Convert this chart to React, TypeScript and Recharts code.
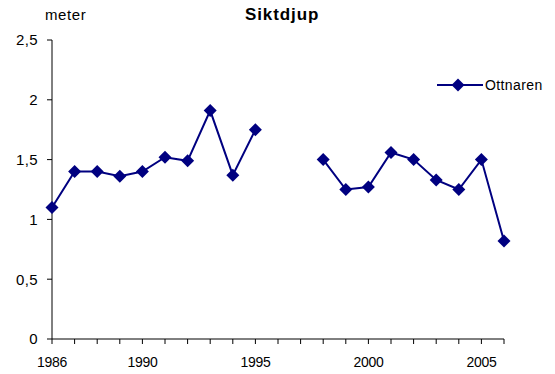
import React from "react";
import { LineChart, Line, XAxis, YAxis } from "recharts";

const years = [
  1986, 1987, 1988, 1989, 1990, 1991, 1992, 1993, 1994, 1995, 1996, 1997,
  1998, 1999, 2000, 2001, 2002, 2003, 2004, 2005, 2006,
];
const ottnaren: (number | null)[] = [
  1.1, 1.4, 1.4, 1.36, 1.4, 1.52, 1.49, 1.91, 1.37, 1.75, null, null,
  1.5, 1.25, 1.27, 1.56, 1.5, 1.33, 1.25, 1.5, 0.82,
];
const yTicks = [0, 0.5, 1, 1.5, 2, 2.5];
const xLabels = [1986, 1990, 1995, 2000, 2005];

const NAVY = "#000080";
const FONT = "'Liberation Sans', Arial, sans-serif";

const data = years.map((year, i) => ({ year, ottnaren: ottnaren[i] }));

const Diamond = (props: any) => {
  const { cx, cy, payload } = props;
  if (payload?.ottnaren == null || cx == null || cy == null) return null;
  const r = 6.5;
  return (
    <polygon
      points={`${cx},${cy - r} ${cx + r},${cy} ${cx},${cy + r} ${cx - r},${cy}`}
      fill={NAVY}
    />
  );
};

// legend drawn as an overlay so it doesn't shrink the plot area
const LegendBox = () => (
  <div
    style={{
      position: "absolute",
      left: 437,
      top: 77,
      display: "flex",
      alignItems: "center",
      fontFamily: FONT,
      fontSize: 14,
      letterSpacing: 0.4,
    }}
  >
    <svg width={46} height={16}>
      <line x1={0} y1={8} x2={46} y2={8} stroke={NAVY} strokeWidth={2} />
      <polygon points="21,1.5 27.5,8 21,14.5 14.5,8" fill={NAVY} />
    </svg>
    <span style={{ marginLeft: 2, color: "#000" }}>Ottnaren</span>
  </div>
);

export default function App() {
  return (
    <div style={{ position: "absolute", left: 0, top: 0, width: 555, height: 374, background: "#fff" }}>
      <div
        style={{
          position: "absolute",
          left: 245,
          top: 5,
          fontFamily: FONT,
          fontWeight: "bold",
          fontSize: 17,
          letterSpacing: 0.9,
        }}
      >
        Siktdjup
      </div>
      <div style={{ position: "absolute", left: 45, top: 6, fontFamily: FONT, fontSize: 15, letterSpacing: 0.6 }}>
        meter
      </div>
      <LineChart
        width={555}
        height={374}
        data={data}
        margin={{ top: 40, right: 51, left: 0, bottom: 0 }}
      >
        <XAxis
          dataKey="year"
          type="number"
          domain={[1986, 2006]}
          ticks={years}
          interval={0}
          tickFormatter={(v: number) => (xLabels.includes(v) ? String(v) : "")}
          height={35}
          stroke="#000"
          tickSize={5}
          tickMargin={13}
          tick={{ fill: "#000", fontSize: 14, fontFamily: FONT, letterSpacing: -0.3 }}
        />
        <YAxis
          domain={[0, 2.5]}
          ticks={yTicks}
          width={52}
          stroke="#000"
          tickSize={5}
          tickMargin={9}
          tickFormatter={(v: number) => String(v).replace(".", ",")}
          tick={{ fill: "#000", fontSize: 15, fontFamily: FONT, letterSpacing: 0.4 }}
        />
        <Line
          dataKey="ottnaren"
          stroke={NAVY}
          strokeWidth={2}
          dot={<Diamond />}
          activeDot={false}
          isAnimationActive={false}
        />
      </LineChart>
      <LegendBox />
    </div>
  );
}
